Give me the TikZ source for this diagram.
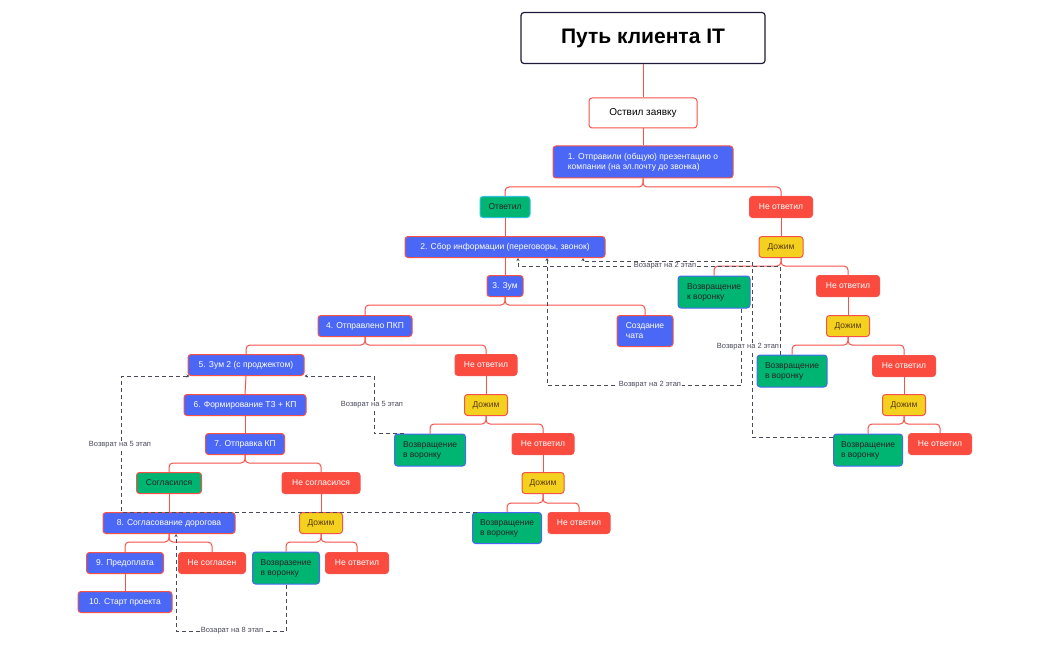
\documentclass[tikz,border=0pt]{standalone}
\usepackage{fontspec}
\setmainfont{Liberation Sans}
\usetikzlibrary{arrows.meta}
\definecolor{cblue}{HTML}{4A68F5}
\definecolor{cred}{HTML}{FB4B3F}
\definecolor{cgreen}{HTML}{00B472}
\definecolor{cyel}{HTML}{F4D11E}
\definecolor{cline}{HTML}{F5524A}
\definecolor{cdash}{HTML}{4A4A5A}
\definecolor{cnavy}{HTML}{1E1B3A}
\definecolor{cbtxt}{HTML}{5A3A10}
\definecolor{clb}{HTML}{30C0E0}
\tikzset{
  box/.style={draw, rounded corners=3pt, line width=1pt, font=\fontsize{8.5}{10}\selectfont, inner xsep=4pt, inner ysep=2pt, minimum height=21pt},
  bbox/.style={box, fill=cblue, draw=cline, text=white},
  rbox/.style={box, fill=cred, draw=cline, text=white},
  gbox/.style={box, fill=cgreen, draw=cblue, text=black!85, align=left},
  ybox/.style={box, fill=cyel, draw=cline, text=cbtxt},
  tree/.style={draw=cline, line width=1pt, rounded corners=4pt},
  ret/.style={draw=cdash, dash pattern=on 4pt off 3pt, line width=0.8pt, -{Stealth[length=3pt,width=3pt]}},
  lab/.style={fill=white, text=cdash, font=\fontsize{7.5}{9}\selectfont, inner sep=1pt}
}
\newcommand\tr[3]{\draw[tree] (#1.south) |- (#2.north |- 0,#3) -- (#2.north);}
\newcommand\st[2]{\draw[tree] (#1.south) -- (#2.north);}
\begin{document}
\begin{tikzpicture}[x=1pt,y=-1pt]
\useasboundingbox (0,0) rectangle (1050,650);
\node[box, fill=white, draw=cnavy, line width=1.2pt, minimum width=244pt, minimum height=51pt, font=\fontsize{21}{24}\bfseries] (title) at (643,38) {Путь клиента IT};
\node[box, fill=white, draw=cline, minimum width=108pt, minimum height=30pt, font=\fontsize{10}{12}\selectfont] (zay) at (643,113) {Оствил заявку};
\node[bbox, minimum width=180pt, minimum height=32pt, align=left] (n1) at (643,162) {1. Отправили (общую) презентацию о\\компании (на эл.почту до звонка)};
\node[gbox, draw=clb, minimum width=50pt] (otv) at (505,207) {Ответил};
\node[rbox, minimum width=63pt] (no1) at (781,207) {Не ответил};
\node[bbox, minimum width=200pt] (n2) at (505,247) {2. Сбор информации (переговоры, звонок)};
\node[ybox, minimum width=44pt] (d1) at (781,247) {Дожим};
\node[bbox, minimum width=36pt] (n3) at (505,286) {3. Зум};
\node[gbox, minimum width=72pt, minimum height=32pt] (v1) at (714,292) {Возвращение\\к воронку};
\node[rbox, minimum width=63pt] (no2) at (848,286) {Не ответил};
\node[bbox, minimum width=94pt] (n4) at (365,326) {4. Отправлено ПКП};
\node[bbox, minimum width=56pt, minimum height=31pt, align=left] (chat) at (645,331) {Создание\\чата};
\node[ybox, minimum width=43pt] (d2) at (848,326) {Дожим};
\node[bbox, minimum width=116pt] (n5) at (246,365) {5. Зум 2 (с проджектом)};
\node[rbox, minimum width=62pt] (no3) at (486,365) {Не ответил};
\node[gbox, minimum width=70pt, minimum height=32pt] (v2) at (792,371) {Возвращение\\в воронку};
\node[rbox, minimum width=63pt] (no4) at (904,366) {Не ответил};
\node[bbox, minimum width=122pt] (n6) at (245,405) {6. Формирование ТЗ + КП};
\node[ybox, minimum width=43pt] (d3) at (486,405) {Дожим};
\node[ybox, minimum width=43pt] (d4) at (904,405) {Дожим};
\node[bbox, minimum width=79pt] (n7) at (245,444) {7. Отправка КП};
\node[gbox, minimum width=71pt, minimum height=32pt] (v3) at (430,450) {Возвращение\\в воронку};
\node[rbox, minimum width=62pt] (no5) at (543,444) {Не ответил};
\node[gbox, minimum width=69pt, minimum height=32pt] (v4) at (868,450) {Возвращение\\в воронку};
\node[rbox, minimum width=63pt] (no6) at (940,444) {Не ответил};
\node[gbox, draw=cline, minimum width=65pt] (sog) at (169,483) {Согласился};
\node[rbox, minimum width=78pt] (nsog) at (321,483) {Не согласился};
\node[ybox, minimum width=42pt] (d5) at (543,483) {Дожим};
\node[bbox, minimum width=132pt] (n8) at (169,523) {8. Согласование дорогова};
\node[ybox, minimum width=43pt] (d6) at (321,523) {Дожим};
\node[gbox, minimum width=69pt, minimum height=31pt] (v5) at (507,528) {Возвращение\\в воронку};
\node[rbox, minimum width=62pt] (no7) at (579,523) {Не ответил};
\node[bbox, minimum width=77pt] (n9) at (125,563) {9. Предоплата};
\node[rbox, minimum width=67pt] (nsn) at (212,563) {Не согласен};
\node[gbox, minimum width=67pt, minimum height=32pt] (v6) at (286,568) {Возвразение\\в воронку};
\node[rbox, minimum width=63pt] (no8) at (357,563) {Не ответил};
\node[bbox, minimum width=94pt] (n10) at (125,602) {10. Старт проекта};
% tree
\st{title}{zay}
\st{zay}{n1}
\tr{n1}{otv}{187}\tr{n1}{no1}{187}
\st{otv}{n2}\st{no1}{d1}
\st{n2}{n3}
\tr{d1}{v1}{266}\tr{d1}{no2}{266}
\tr{n3}{n4}{305}\tr{n3}{chat}{305}
\st{no2}{d2}
\tr{n4}{n5}{345}\tr{n4}{no3}{345}
\tr{d2}{v2}{345}\tr{d2}{no4}{345}
\st{n5}{n6}\st{n6}{n7}
\st{no3}{d3}\st{no4}{d4}
\tr{d3}{v3}{424}\tr{d3}{no5}{424}
\tr{d4}{v4}{424}\tr{d4}{no6}{424}
\tr{n7}{sog}{463}\tr{n7}{nsog}{463}
\st{no5}{d5}
\st{sog}{n8}\st{nsog}{d6}
\tr{d5}{v5}{503}\tr{d5}{no7}{503}
\tr{n8}{n9}{542}\tr{n8}{nsn}{542}
\tr{d6}{v6}{542}\tr{d6}{no8}{542}
\st{n9}{n10}
% returns
\draw[ret] ([xshift=-12pt]v2.north) |- ([xshift=13pt]n2.south |- 0,266) -- ([xshift=13pt]n2.south);
\node[lab] (l1) at (665,266) {Возарат на 2 этап};
\draw[ret] ([xshift=27pt]v1.south) |- ([xshift=42pt]n2.south |- 0,385) -- ([xshift=42pt]n2.south);
\node[lab] (l2) at (650,385) {Возврат на 2 этап};
\draw[ret] ([yshift=13pt]v4.west) -| (752,261) -| ([xshift=78pt]n2.south);
\node[lab] (l3) at (748,347) {Возврат на 2 этап};
\draw[ret] ([xshift=10pt]v3.north west) -- ++(-30,0) |- (n5.south east);
\node[lab] (l4) at (372,405) {Возврат на 5 этап};
\draw[ret] ([xshift=5pt]v5.north west) -| ([xshift=-66pt]n5.south west) -- ([xshift=2pt]n5.south west);
\node[lab] (l5) at (120,445) {Возврат на 5 этап};
\draw[ret] (v6.south) |- ([xshift=7pt]n8.south |- 0,631) -- ([xshift=7pt]n8.south);
\node[lab] (l6) at (232,631) {Возарат на 8 этап};
\end{tikzpicture}
\end{document}
